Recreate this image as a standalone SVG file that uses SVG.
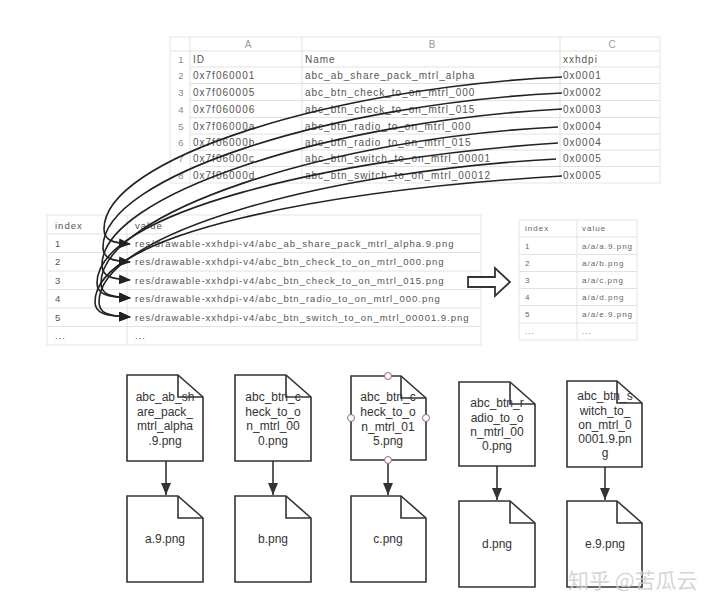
<svg xmlns="http://www.w3.org/2000/svg" width="720" height="610" viewBox="0 0 720 610">
<defs>
<style>
.grid{stroke:#e2e2e2;stroke-width:1;fill:none}
.border{stroke:#e6e6e6;stroke-width:1;fill:#fff}
.tt{font-family:"Liberation Sans",Arial,sans-serif;font-size:10px;letter-spacing:1px;fill:#555}
.th{font-family:"Liberation Sans",Arial,sans-serif;font-size:10px;fill:#9a9a9a;text-anchor:middle}
.tn{font-family:"Liberation Sans",Arial,sans-serif;font-size:9.5px;fill:#8a8a8a;text-anchor:middle}
.mt{font-family:"Liberation Sans",Arial,sans-serif;font-size:9.5px;letter-spacing:1px;fill:#555}
.st{font-family:"Liberation Sans",Arial,sans-serif;font-size:8px;letter-spacing:1px;fill:#666}
.curve{fill:none;stroke:#222;stroke-width:1.6}
.doc{fill:#fff;stroke:#333;stroke-width:1.6;stroke-linejoin:miter}
.fold{fill:none;stroke:#333;stroke-width:1.6}
.nt{font-family:"Liberation Sans",Arial,sans-serif;font-size:12px;fill:#333;text-anchor:middle}
.link{fill:none;stroke:#333;stroke-width:1.6}
.handle{fill:#fff;stroke:#a06464;stroke-width:1}
</style>
<marker id="ah" viewBox="0 0 12 10" refX="11" refY="5" markerWidth="12" markerHeight="10" markerUnits="userSpaceOnUse" orient="auto">
<path d="M0,0 L12,5 L0,10 z" fill="#222"/>
</marker>
<marker id="ah2" viewBox="0 0 10 12" refX="5" refY="12" markerWidth="10" markerHeight="12" markerUnits="userSpaceOnUse" orient="0">
<path d="M0,0 L10,0 L5,12 z" fill="#333"/>
</marker>
</defs>
<rect x="0" y="0" width="720" height="610" fill="#fff"/>

<!-- top spreadsheet -->
<g id="sheet-top">
<rect class="border" x="170" y="37" width="490" height="146"/>
<path class="grid" d="M170 51H660M190 67H660M190 83.5H660M190 100.5H660M190 117.5H660M190 134H660M190 150H660M190 166.5H660M190 37V183M302 37V183M560 37V183"/>
<text class="th" x="248" y="47.5">A</text>
<text class="th" x="432" y="47.5">B</text>
<text class="th" x="612" y="47.5">C</text>
<text class="tn" x="181" y="62.5">1</text>
<text class="tn" x="181" y="78.5">2</text>
<text class="tn" x="181" y="95.5">3</text>
<text class="tn" x="181" y="112.5">4</text>
<text class="tn" x="181" y="129.5">5</text>
<text class="tn" x="181" y="145.5">6</text>
<text class="tn" x="181" y="161.5">7</text>
<text class="tn" x="181" y="178.5">8</text>
<text class="tt" x="193" y="62.5">ID</text>
<text class="tt" x="193" y="78.5">0x7f060001</text>
<text class="tt" x="193" y="95.5">0x7f060005</text>
<text class="tt" x="193" y="112.5">0x7f060006</text>
<text class="tt" x="193" y="129.5">0x7f06000a</text>
<text class="tt" x="193" y="145.5">0x7f06000b</text>
<text class="tt" x="193" y="161.5">0x7f06000c</text>
<text class="tt" x="193" y="178.5">0x7f06000d</text>
<text class="tt" x="305" y="62.5">Name</text>
<text class="tt" x="305" y="78.5">abc_ab_share_pack_mtrl_alpha</text>
<text class="tt" x="305" y="95.5">abc_btn_check_to_on_mtrl_000</text>
<text class="tt" x="305" y="112.5">abc_btn_check_to_on_mtrl_015</text>
<text class="tt" x="305" y="129.5">abc_btn_radio_to_on_mtrl_000</text>
<text class="tt" x="305" y="145.5">abc_btn_radio_to_on_mtrl_015</text>
<text class="tt" x="305" y="161.5">abc_btn_switch_to_on_mtrl_00001</text>
<text class="tt" x="305" y="178.5">abc_btn_switch_to_on_mtrl_00012</text>
<text class="tt" x="563" y="62.5">xxhdpi</text>
<text class="tt" x="563" y="78.5">0x0001</text>
<text class="tt" x="563" y="95.5">0x0002</text>
<text class="tt" x="563" y="112.5">0x0003</text>
<text class="tt" x="563" y="129.5">0x0004</text>
<text class="tt" x="563" y="145.5">0x0004</text>
<text class="tt" x="563" y="161.5">0x0005</text>
<text class="tt" x="563" y="178.5">0x0005</text>
</g>

<!-- middle table -->
<g id="table-res">
<rect class="border" x="47" y="215" width="434" height="130"/>
<path class="grid" d="M47 234H481M47 252.5H481M47 271H481M47 289.5H481M47 308H481M47 326.5H481M127 215V345"/>
<text class="mt" x="55" y="228.5" fill="#777">index</text>
<text class="mt" x="135" y="228.5">value</text>
<text class="mt" x="55" y="246.5">1</text>
<text class="mt" x="55" y="265">2</text>
<text class="mt" x="55" y="283.5">3</text>
<text class="mt" x="55" y="302">4</text>
<text class="mt" x="55" y="320.5">5</text>
<text class="mt" x="55" y="339">...</text>
<text class="mt" x="135" y="246.5">res/drawable-xxhdpi-v4/abc_ab_share_pack_mtrl_alpha.9.png</text>
<text class="mt" x="135" y="265">res/drawable-xxhdpi-v4/abc_btn_check_to_on_mtrl_000.png</text>
<text class="mt" x="135" y="283.5">res/drawable-xxhdpi-v4/abc_btn_check_to_on_mtrl_015.png</text>
<text class="mt" x="135" y="302">res/drawable-xxhdpi-v4/abc_btn_radio_to_on_mtrl_000.png</text>
<text class="mt" x="135" y="320.5">res/drawable-xxhdpi-v4/abc_btn_switch_to_on_mtrl_00001.9.png</text>
<text class="mt" x="135" y="339">...</text>
</g>

<!-- hollow arrow -->
<g id="convert-arrow">
<polygon points="468,277 495,277 495,268 510,282 495,296 495,287 468,287" fill="#fff" stroke="#333" stroke-width="1.8" stroke-linejoin="miter"/>
</g>

<!-- small table -->
<g id="table-short">
<rect class="border" x="519" y="220" width="118" height="120"/>
<path class="grid" d="M519 237H637M519 254.5H637M519 271.5H637M519 288.5H637M519 305.5H637M519 323H637M577 220V340"/>
<text class="st" x="525" y="231">index</text>
<text class="st" x="582" y="231">value</text>
<text class="st" x="525" y="249">1</text>
<text class="st" x="525" y="266">2</text>
<text class="st" x="525" y="283">3</text>
<text class="st" x="525" y="300">4</text>
<text class="st" x="525" y="317">5</text>
<text class="st" x="525" y="334">...</text>
<text class="st" x="582" y="249">a/a/a.9.png</text>
<text class="st" x="582" y="266">a/a/b.png</text>
<text class="st" x="582" y="283">a/a/c.png</text>
<text class="st" x="582" y="300">a/a/d.png</text>
<text class="st" x="582" y="317">a/a/e.9.png</text>
<text class="st" x="582" y="334">...</text>
</g>

<!-- connectors -->
<g id="connectors">
<path class="curve" marker-end="url(#ah)" d="M562,77 C330,88 104,159 104,229 C104,240 112,243 130,244"/>
<path class="curve" marker-end="url(#ah)" d="M562,93 C330,104 103,177 103,247 C103,258 111,261 130,262"/>
<path class="curve" marker-end="url(#ah)" d="M562,109 C330,121 102,195 102,265 C102,276 110,279 130,280"/>
<path class="curve" marker-end="url(#ah)" d="M558,127 C330,138 101,213 101,283 C101,294 109,297 130,298"/>
<path class="curve" marker-end="url(#ah)" d="M558,143 C330,158 97,213 97,283 C97,294 106,297 130,298"/>
<path class="curve" marker-end="url(#ah)" d="M556,159 C330,171 99,232 99,302 C99,313 107,316 130,317"/>
<path class="curve" marker-end="url(#ah)" d="M562,176 C330,190 95,232 95,302 C95,313 104,316 130,317"/>
<path class="link" marker-end="url(#ah2)" d="M166,461 V495"/>
<path class="link" marker-end="url(#ah2)" d="M273,461 V495"/>
<path class="link" marker-end="url(#ah2)" d="M388,460 V495"/>
<path class="link" marker-end="url(#ah2)" d="M497,466 V500"/>
<path class="link" marker-end="url(#ah2)" d="M605,467 V500"/>
</g>

<!-- source file nodes -->
<g id="node-src1">
<path class="doc" d="M127,375 H178 L203,397 V461 H127 Z"/>
<path class="fold" d="M178,375 V397 H203"/>
<text class="nt" x="165" y="401">abc_ab_sh</text>
<text class="nt" x="165" y="415.5">are_pack_</text>
<text class="nt" x="165" y="430">mtrl_alpha</text>
<text class="nt" x="165" y="444.5">.9.png</text>
</g>
<g id="node-src2">
<path class="doc" d="M235,375 H286 L311,397 V461 H235 Z"/>
<path class="fold" d="M286,375 V397 H311"/>
<text class="nt" x="273" y="401">abc_btn_c</text>
<text class="nt" x="273" y="415.5">heck_to_o</text>
<text class="nt" x="273" y="430">n_mtrl_00</text>
<text class="nt" x="273" y="444.5">0.png</text>
</g>
<g id="node-src3">
<path class="doc" d="M351,376 H401 L426,398 V460 H351 Z"/>
<path class="fold" d="M401,376 V398 H426"/>
<text class="nt" x="388" y="401">abc_btn_c</text>
<text class="nt" x="388" y="416">heck_to_o</text>
<text class="nt" x="388" y="431">n_mtrl_01</text>
<text class="nt" x="388" y="445">5.png</text>
<circle class="handle" cx="388" cy="376" r="3.5"/>
<circle class="handle" cx="351" cy="418" r="3.5"/>
<circle class="handle" cx="426" cy="418" r="3.5"/>
<circle class="handle" cx="388" cy="460" r="3.5"/>
</g>
<g id="node-src4">
<path class="doc" d="M459,382 H510 L535,404 V466 H459 Z"/>
<path class="fold" d="M510,382 V404 H535"/>
<text class="nt" x="497" y="407">abc_btn_r</text>
<text class="nt" x="497" y="422">adio_to_o</text>
<text class="nt" x="497" y="436">n_mtrl_00</text>
<text class="nt" x="497" y="450">0.png</text>
</g>
<g id="node-src5">
<path class="doc" d="M567,381 H617 L642,403 V467 H567 Z"/>
<path class="fold" d="M617,381 V403 H642"/>
<text class="nt" x="605" y="400">abc_btn_s</text>
<text class="nt" x="605" y="415">witch_to_</text>
<text class="nt" x="605" y="429">on_mtrl_0</text>
<text class="nt" x="605" y="443">0001.9.pn</text>
<text class="nt" x="605" y="457">g</text>
</g>

<!-- target file nodes -->
<g id="node-a">
<path class="doc" d="M127,496 H178 L203,518 V582 H127 Z"/>
<path class="fold" d="M178,496 V518 H203"/>
<text class="nt" x="165" y="543">a.9.png</text>
</g>
<g id="node-b">
<path class="doc" d="M235,496 H286 L311,518 V582 H235 Z"/>
<path class="fold" d="M286,496 V518 H311"/>
<text class="nt" x="273" y="543">b.png</text>
</g>
<g id="node-c">
<path class="doc" d="M351,496 H401 L426,518 V582 H351 Z"/>
<path class="fold" d="M401,496 V518 H426"/>
<text class="nt" x="388" y="543">c.png</text>
</g>
<g id="node-d">
<path class="doc" d="M459,501 H510 L535,523 V587 H459 Z"/>
<path class="fold" d="M510,501 V523 H535"/>
<text class="nt" x="497" y="548">d.png</text>
</g>
<g id="node-e">
<path class="doc" d="M567,501 H617 L642,523 V587 H567 Z"/>
<path class="fold" d="M617,501 V523 H642"/>
<text class="nt" x="605" y="548">e.9.png</text>
</g>

<text x="568" y="588" font-family="'Noto Sans CJK SC',sans-serif" font-size="21" fill="#cfcfcf" fill-opacity="0.9">知乎 @苦瓜云</text>
</svg>
